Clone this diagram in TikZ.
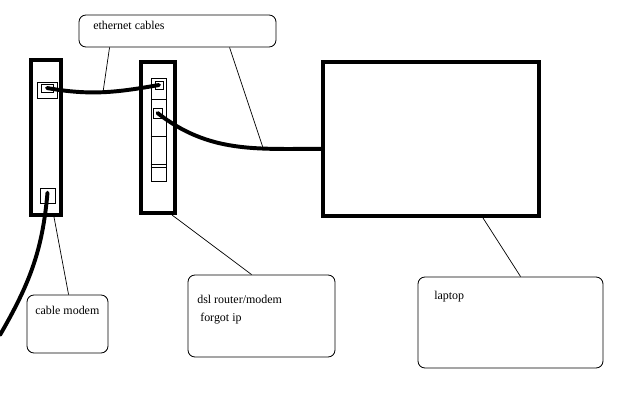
\documentclass[tikz,border=0pt]{standalone}
\usepackage{fontspec}
\setmainfont{Liberation Serif}
\usepackage{tikz}
\usetikzlibrary{calc, positioning}

\begin{document}
\begin{tikzpicture}[
    x=0.025cm, y=-0.025cm,
    devbox/.style={
        rectangle,
        draw,
        line width=2.8pt,
        inner sep=0pt
    },
    portbox/.style={
        rectangle,
        draw,
        line width=0.6pt,
        inner sep=0pt
    },
    notebox/.style={
        rectangle,
        draw,
        rounded corners=5pt,
        line width=0.6pt,
        inner sep=0pt
    },
    notetext/.style={anchor=base west, inner sep=0pt, font=\fontsize{8.5}{10}\selectfont},
    cable/.style={line width=2.8pt, line cap=round},
    leader/.style={line width=0.5pt}
]
\useasboundingbox (0,0) rectangle (640,400);

% cable modem
\node[devbox, minimum width=0.75cm, minimum height=3.875cm] (modem) at (46,137.5) {};
\node[portbox, minimum width=0.5cm, minimum height=0.4cm] (mport) at (47,90) {};
\node[portbox, minimum width=0.3cm, minimum height=0.2cm] (mportin) at (47,88) {};
\node[portbox, minimum width=0.375cm, minimum height=0.375cm] (mwan) at (47.5,195.5) {};

% dsl router
\node[devbox, minimum width=0.85cm, minimum height=3.775cm] (router) at (158,137.5) {};
\node[portbox, minimum width=0.375cm, minimum height=2.575cm] (panel) at (158.5,129.5) {};
\node[portbox, minimum width=0.2cm, minimum height=0.2cm] (rport1) at (159,85) {};
\node[portbox, minimum width=0.225cm, minimum height=0.25cm] (rport2) at (157.5,113) {};
\foreach \yy in {99,136,164,167}
    \draw[line width=0.6pt] (panel.west |- 0,\yy) -- (panel.east |- 0,\yy);

% laptop
\node[devbox, minimum width=5.4cm, minimum height=3.85cm] (laptop) at (431,139) {};

% notes
\node[notebox, minimum width=4.925cm, minimum height=0.8cm] (ethnote) at (177.5,31) {};
\node[notetext] (ethtext) at (93,30) {ethernet cables};

\node[notebox, minimum width=2.025cm, minimum height=1.45cm] (modemnote) at (67.5,324) {};
\node[notetext] (modemtext) at (35,315) {cable modem};

\node[notebox, minimum width=3.675cm, minimum height=2.05cm] (dslnote) at (261.5,316) {};
\node[notetext] (dsltext) at (197,304) {dsl router/modem};
\node[notetext] (iptext) at (200,322) {forgot ip};

\node[notebox, minimum width=4.625cm, minimum height=2.275cm] (lapnote) at (510.5,322.5) {};
\node[notetext] (laptext) at (434,300) {laptop};

% cables
\coordinate (lineend) at (0,335);
\draw[cable] (mportin.center) to[out=-10, in=190] coordinate[pos=0.5] (c1mid) (rport1.center);
\draw[cable] (rport2.center) to[out=-38, in=180] coordinate[pos=0.68] (c2mid) ([yshift=-7pt]laptop.west);
\draw[cable] ([yshift=2pt]mwan.center) to[out=-95, in=60] (lineend);

% leaders
\draw[leader] ($(ethnote.south west)+(31,0)$) -- (c1mid);
\draw[leader] ($(ethnote.south west)+(151,0)$) -- (c2mid);
\draw[leader] ($(modem.south)+(8,0)$) -- ($(modemnote.north west)+(42,0)$);
\draw[leader] ($(router.south east)+(-5,0)$) -- ($(dslnote.north west)+(64,0)$);
\draw[leader] ($(laptop.south west)+(162,0)$) -- ($(lapnote.north west)+(103,0)$);

\end{tikzpicture}
\end{document}
